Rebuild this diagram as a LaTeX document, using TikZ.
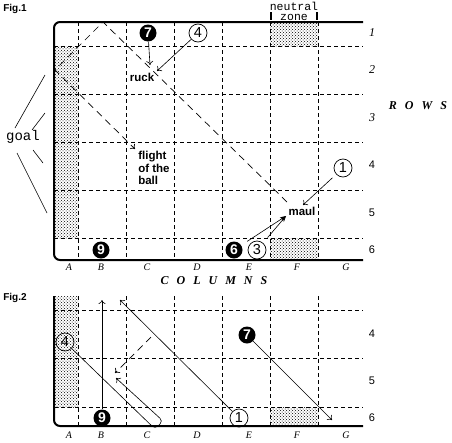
\documentclass[tikz,border=0pt]{standalone}
\usepackage{fontspec}
\setmainfont{Liberation Serif}
\setsansfont{Liberation Sans}
\setmonofont{Liberation Mono}
\usetikzlibrary{patterns}
\usetikzlibrary{arrows.meta}

\tikzset{
  gridline/.style={dash pattern=on 4pt off 3pt, line width=0.8pt},
  flightline/.style={dash pattern=on 7pt off 5pt, line width=0.7pt},
  rim/.style={line width=2pt},
  pl/.style={circle, draw, line width=0.7pt, minimum size=18pt, inner sep=0pt,
    font=\sffamily\fontsize{14.5}{14.5}\selectfont},
  bk/.style={circle, fill=black, minimum size=17pt, inner sep=0pt, text=white,
    font=\sffamily\bfseries\fontsize{14}{14}\selectfont},
  lab/.style={inner sep=0pt, font=\sffamily\bfseries\fontsize{11.5}{12.5}\selectfont},
  figlab/.style={inner sep=0pt, font=\sffamily\bfseries\fontsize{10}{10}\selectfont},
  rowit/.style={font=\itshape\fontsize{12}{12}\selectfont},
  rowsf/.style={font=\sffamily\fontsize{11}{11}\selectfont},
  colit/.style={inner sep=0pt, font=\itshape\fontsize{10}{10}\selectfont},
  big/.style={inner sep=0pt, font=\bfseries\itshape\fontsize{12}{12}\selectfont},
  mono/.style={inner sep=0pt, font=\ttfamily\fontsize{14}{14}\selectfont},
}

\begin{document}
\begin{tikzpicture}[x=1pt, y=-1pt, line width=0.6pt, >={To[length=4pt,width=7pt]}]
    \useasboundingbox (0,0) rectangle (452,442);

    % 绘制第一幅图
    \node[figlab, anchor=west] (fig1) at (3,9) {Fig.1};
    \fill[pattern=crosshatch dots] (54,46) rectangle (78,238);
    \fill[pattern=crosshatch dots] (270,22) rectangle (318,46);
    \fill[pattern=crosshatch dots] (270,238) rectangle (318,260);
    \foreach \x in {78,126,...,318} \draw[gridline] (\x,22) -- (\x,260);
    \foreach \y in {46,94,...,238} \draw[gridline] (54,\y) -- (363,\y);
    \draw[rim, rounded corners=6pt] (363,22) -- (54,22) -- (54,260) -- (363,260);

    \node[inner sep=0pt, align=center, font=\ttfamily\fontsize{11.5}{10}\selectfont] (nz) at (294,11) {neutral\\zone};
    \draw[line width=1.8pt] (271,12) -- (271,20);
    \draw[line width=1.8pt] (317,12) -- (317,20);

    \foreach \r/\y in {1/33,2/70,3/118} \node[rowit] (r\r) at (372,\y) {\r};
    \foreach \r/\y in {4/165,5/213,6/250} \node[rowsf] (r\r) at (372,\y) {\r};
    \foreach \c/\x in {A/69,B/101,C/147,D/197,E/249,F/297,G/346} \node[colit] (c\c) at (\x,267) {\c};
    \node[big] (rows) at (418,106) {R\hspace{8pt}O\hspace{8pt}W\hspace{8pt}S};
    \node[big] (cols) at (214,281) {C\hspace{8pt}O\hspace{8pt}L\hspace{8pt}U\hspace{8pt}M\hspace{8pt}N\hspace{8pt}S};

    \node[mono] (goal) at (23,137) {goal};
    \coordinate (gl1) at (45,75);
    \coordinate (gl2) at (45,113);
    \coordinate (gl3) at (43,163);
    \coordinate (gl4) at (47,213);
    \draw ([shift={(-8,-9)}]goal.center) -- (gl1);
    \draw ([shift={(9,-7)}]goal.center) -- (gl2);
    \draw ([shift={(10,13)}]goal.center) -- (gl3);
    \draw ([shift={(-6,16)}]goal.center) -- (gl4);

    \node[bk] (p7) at (148,33) {7};
    \node[pl] (p4) at (198,33) {4};
    \node[lab] (ruck) at (142,77) {ruck};
    \coordinate (rk1) at (150,65);
    \coordinate (rk2) at (157,71);
    \draw[->] (p7) -- (rk1);
    \draw[->] (p4) -- (rk2);

    \coordinate (fa) at (287,202);
    \coordinate (fb) at (103,22);
    \coordinate (fc) at (55,70);
    \coordinate (fd) at (135,149);
    \draw[flightline, ->] (fa) -- (fb) -- (fc) -- (fd);
    \node[lab, anchor=north west, align=left] (flight) at (138,151) {flight\\of the\\ball};

    \node[lab] (maul) at (302,211) {maul};
    \node[pl] (p1) at (343,168) {1};
    \node[bk] (p6) at (234,250) {6};
    \node[pl] (p3) at (257,250) {3};
    \node[bk] (p9) at (101,250) {9};
    \coordinate (ml1) at (303,205);
    \coordinate (ml2) at (286,216);
    \draw[->, shorten <=5pt] (p1) -- (ml1);
    \draw[-{Stealth[length=6pt]}, shorten <=7pt] (p6) -- (ml2);
    \draw[-{Stealth[length=6pt]}, shorten <=7pt] (p3) -- (ml2);

    % 绘制第二幅图
    \node[figlab, anchor=west] (fig2) at (3,298) {Fig.2};
    \fill[pattern=crosshatch dots] (54,296) rectangle (78,407);
    \fill[pattern=crosshatch dots] (270,407) rectangle (318,426);
    \foreach \x in {78,126,...,318} \draw[gridline] (\x,296) -- (\x,426);
    \foreach \y in {310,358,407} \draw[gridline] (54,\y) -- (363,\y);
    \draw[rim, rounded corners=6pt] (54,296) -- (54,426) -- (363,426);

    \foreach \r/\y in {4/334,5/381,6/418} \node[rowsf] (s\r) at (372,\y) {\r};
    \foreach \c/\x in {A/69,B/101,C/147,D/197,E/249,F/297,G/346} \node[colit] (d\c) at (\x,435) {\c};

    \node[pl] (q4) at (65,342) {4};
    \node[bk] (q9) at (102,418) {9};
    \node[bk] (q7) at (247,335) {7};
    \node[pl] (q1) at (239,418) {1};

    \coordinate (up) at (102,300);
    \draw[->] (q9) -- (up);
    \coordinate (kick) at (120,300);
    \draw[->] (q1) -- (kick);
    \coordinate (da) at (151,337);
    \coordinate (db) at (115,373);
    \draw[flightline, ->] (da) -- (db);
    \coordinate (bend1) at (155,429);
    \coordinate (bend2) at (163,421);
    \coordinate (rt) at (116,378);
    \draw[->, rounded corners=4pt] (q4) -- (bend1) -- (bend2) -- (rt);
    \coordinate (tip7) at (332,420);
    \draw[->] (q7) -- (tip7);
\end{tikzpicture}
\end{document}
